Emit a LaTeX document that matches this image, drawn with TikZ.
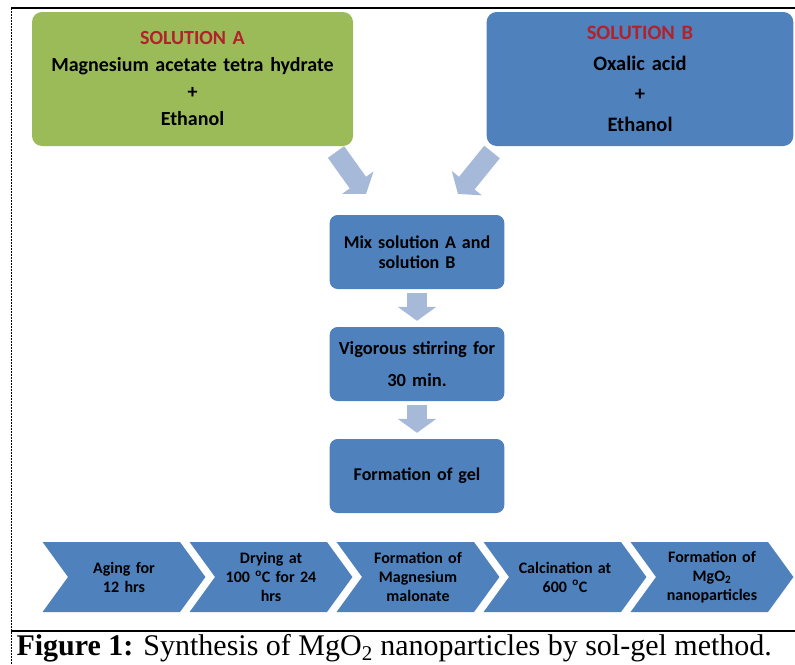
\documentclass[tikz,border=0pt]{standalone}
\usepackage{fontspec}
\setmainfont{Liberation Serif}
\newfontfamily\calibri{Carlito}
\usetikzlibrary{arrows.meta,positioning,shapes.symbols}
\definecolor{boxgreen}{RGB}{155,187,89}
\definecolor{boxblue}{RGB}{79,129,189}
\definecolor{flowblue}{RGB}{167,185,217}
\definecolor{titlered}{RGB}{178,34,42}
\tikzset{
    %Define standard block arrow
    flow/.style={
      draw=flowblue,
      line width=20pt,
      -{Triangle[width=38pt,length=14pt]}},
    soln/.style={
      rectangle,
      rounded corners=10pt,
      minimum height=134pt,
      text width=300pt,
      align=center,
      font=\calibri\bfseries\fontsize{20}{27}\selectfont},
    stage/.style={
      rectangle,
      rounded corners=8pt,
      fill=boxblue,
      minimum width=173pt,
      minimum height=74pt,
      text width=168pt,
      align=center,
      font=\calibri\bfseries\fontsize{18}{20}\selectfont},
    chevron/.style={
      signal,
      signal from=west,
      signal to=east,
      signal pointer angle=108,
      fill=boxblue,
      minimum width=158pt,
      minimum height=70pt,
      inner sep=0pt,
      text width=112pt,
      align=center,
      font=\calibri\bfseries\fontsize{16}{19}\selectfont},
}

\begin{document}
\begin{tikzpicture}[x=1pt, y=-1pt, node distance=112pt]
    \useasboundingbox (0,0) rectangle (795,664);
    % frame
    \draw[line width=2pt] (11,8) -- (795,8);
    \draw[line width=2pt] (11,631) -- (795,631);
    \draw[line width=1pt, dash pattern=on 2pt off 1pt] (11,8) -- (11,664);

    \node (solA) [soln, fill=boxgreen, minimum width=321pt] at (192.5,79)
          {\textcolor{titlered}{SOLUTION A}\\
           Magnesium acetate tetra hydrate\\ +\\ Ethanol};
    \node (solB) [soln, fill=boxblue, minimum width=302pt,
          font=\calibri\bfseries\fontsize{20.5}{30.5}\selectfont] at (640,79)
          {\textcolor{titlered}{SOLUTION B}\\ Oxalic acid\\ +\\ Ethanol};

    \node (mix) [stage] at (417,252)
          {Mix solution A and\\ solution B};
    \node (stir) [stage, below of=mix,
          font=\calibri\bfseries\fontsize{18.5}{32}\selectfont]
          {Vigorous stirring for\\ 30 min.};
    \node (gel) [stage, below of=stir]
          {Formation of gel};

    % feeding arrows
    \coordinate (inA) at (336,152);
    \coordinate (outA) at (366,194);
    \coordinate (inB) at (492,152);
    \coordinate (outB) at (458,194);
    \draw[flow] (inA) -- (outA);
    \draw[flow] (inB) -- (outB);
    \draw[flow, shorten <=4pt, shorten >=6pt] (mix) -- (stir);
    \draw[flow, shorten <=4pt, shorten >=6pt] (stir) -- (gel);

    % process chain
    \node (age) [chevron] at (124,577)
          {Aging for\\ 12 hrs};
    \node (dry) [chevron, right of=age, node distance=147pt]
          {Drying at\\ 100 \textsuperscript{o}C for 24\\ hrs};
    \node (malo) [chevron, right of=dry, node distance=147pt]
          {Formation of\\ Magnesium\\ malonate};
    \node (calc) [chevron, right of=malo, node distance=147pt]
          {Calcination at\\ 600 \textsuperscript{o}C};
    \node (mgo) [chevron, right of=calc, node distance=147pt]
          {Formation of\\ MgO\textsubscript{2}\\ nanoparticles};

    \node (cap) [anchor=west, font=\fontsize{30}{32}\selectfont] at (13,648)
          {\textbf{Figure 1:} Synthesis of MgO\textsubscript{2} nanoparticles by sol-gel method.};
\end{tikzpicture}
\end{document}
